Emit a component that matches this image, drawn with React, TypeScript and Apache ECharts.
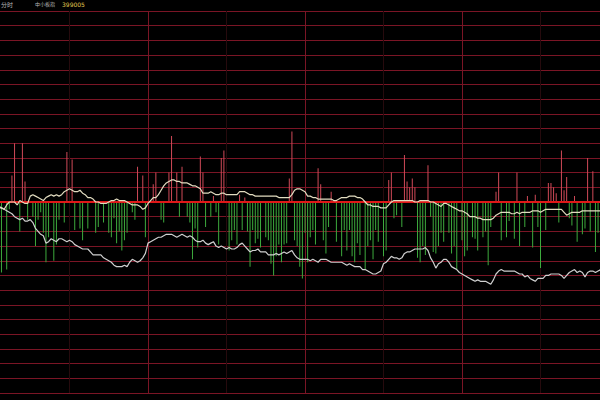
import React, { useEffect, useRef } from "react";
import * as echarts from "echarts";

// Header texts
const headerTexts = ["分时", "中小板指", "399005"];

// Minutes since open (0 = 09:30), one value per minute, % change
const priceLine = [
  -0.03, -0.03, -0.02, -0.03, -0.04, -0.05, -0.02, 0, 0, 0,
  -0.02, 0.01, 0, -0.01, -0.01, 0.04, 0.05, 0.04, 0.03, 0.02,
  0.01, 0.03, 0.04, 0.05, 0.04, 0.05, 0.04, 0.05, 0.07, 0.08,
  0.09, 0.08, 0.07, 0.07, 0.08, 0.06, 0.05, 0.03, 0.03, 0.02,
  0, 0, -0.01, -0.01, -0.01, 0, 0.01, 0.01, 0.02, 0.01,
  0.01, 0.01, 0, -0.01, -0.02, -0.02, -0.02, -0.03, -0.05, -0.04,
  -0.01, 0.01, 0.03, 0.03, 0.05, 0.08, 0.11, 0.13, 0.14, 0.15,
  0.15, 0.14, 0.14, 0.13, 0.13, 0.13, 0.12, 0.11, 0.11, 0.1,
  0.09, 0.06, 0.06, 0.06, 0.07, 0.06, 0.05, 0.05, 0.06, 0.06,
  0.05, 0.05, 0.05, 0.05, 0.05, 0.07, 0.07, 0.07, 0.06, 0.05,
  0.05, 0.04, 0.04, 0.04, 0.04, 0.04, 0.04, 0.04, 0.04, 0.04,
  0.03, 0.03, 0.03, 0.03, 0.03, 0.05, 0.08, 0.09, 0.09, 0.08,
  0.07, 0.04, 0.04, 0.03, 0.03, 0.02, 0.02, 0.02, 0.02, 0.02,
  0.02, 0.01, 0.01, 0.02, 0.03, 0.03, 0.03, 0.04, 0.04, 0.04,
  0.03, 0.03, 0.02, 0, -0.02, -0.02, -0.03, -0.03, -0.03, -0.04,
  -0.04, -0.04, -0.02, 0, 0.01, 0.01, 0.01, 0.01, 0.01, 0.01,
  0.01, 0.01, 0, 0, 0.01, 0.01, 0.01, 0.01, 0, 0,
  -0.01, -0.02, -0.03, -0.01, -0.01, -0.02, -0.03, -0.04, -0.05, -0.06,
  -0.06, -0.07, -0.08, -0.1, -0.1, -0.1, -0.11, -0.11, -0.12, -0.12,
  -0.12, -0.12, -0.11, -0.09, -0.08, -0.07, -0.07, -0.07, -0.07, -0.08,
  -0.08, -0.07, -0.08, -0.07, -0.07, -0.07, -0.07, -0.06, -0.06, -0.06,
  -0.07, -0.06, -0.05, -0.05, -0.05, -0.05, -0.05, -0.05, -0.05, -0.07,
  -0.09, -0.08, -0.07, -0.07, -0.07, -0.07, -0.06, -0.06, -0.06, -0.06,
  -0.06, -0.06, -0.06, -0.06, -0.06,
];

const secondLine = [
  -0.03, -0.03, -0.03, -0.04, -0.04, -0.05, -0.06, -0.07, -0.08, -0.1,
  -0.11, -0.12, -0.11, -0.13, -0.13, -0.12, -0.14, -0.18, -0.2, -0.22,
  -0.23, -0.28, -0.27, -0.25, -0.26, -0.27, -0.25, -0.25, -0.26, -0.27,
  -0.26, -0.27, -0.29, -0.3, -0.31, -0.32, -0.32, -0.32, -0.34, -0.36,
  -0.36, -0.36, -0.36, -0.38, -0.39, -0.4, -0.41, -0.43, -0.44, -0.44,
  -0.44, -0.43, -0.44, -0.41, -0.39, -0.4, -0.41, -0.4, -0.38, -0.35,
  -0.28, -0.27, -0.26, -0.25, -0.24, -0.24, -0.23, -0.22, -0.22, -0.22,
  -0.23, -0.24, -0.23, -0.22, -0.23, -0.24, -0.23, -0.24, -0.26, -0.27,
  -0.27, -0.26, -0.28, -0.29, -0.28, -0.27, -0.3, -0.31, -0.3, -0.31,
  -0.32, -0.31, -0.32, -0.32, -0.31, -0.29, -0.28, -0.3, -0.32, -0.34,
  -0.33, -0.33, -0.32, -0.34, -0.34, -0.34, -0.36, -0.36, -0.36, -0.35,
  -0.36, -0.35, -0.34, -0.35, -0.34, -0.33, -0.36, -0.38, -0.39, -0.39,
  -0.39, -0.39, -0.4, -0.39, -0.4, -0.41, -0.39, -0.39, -0.39, -0.4,
  -0.41, -0.41, -0.41, -0.41, -0.41, -0.42, -0.43, -0.42, -0.43, -0.44,
  -0.44, -0.44, -0.46, -0.46, -0.47, -0.48, -0.49, -0.49, -0.48, -0.47,
  -0.42, -0.41, -0.39, -0.37, -0.38, -0.38, -0.39, -0.38, -0.35, -0.34,
  -0.34, -0.33, -0.32, -0.32, -0.32, -0.32, -0.31, -0.33, -0.38, -0.41,
  -0.45, -0.42, -0.41, -0.39, -0.39, -0.41, -0.44, -0.45, -0.46, -0.48,
  -0.49, -0.5, -0.51, -0.52, -0.53, -0.54, -0.53, -0.54, -0.54, -0.54,
  -0.55, -0.56, -0.53, -0.49, -0.47, -0.46, -0.47, -0.47, -0.47, -0.47,
  -0.47, -0.48, -0.49, -0.49, -0.51, -0.5, -0.52, -0.53, -0.54, -0.52,
  -0.52, -0.52, -0.5, -0.5, -0.49, -0.49, -0.49, -0.49, -0.5, -0.52,
  -0.5, -0.48, -0.47, -0.46, -0.48, -0.47, -0.48, -0.51, -0.48, -0.47,
  -0.47, -0.48, -0.47, -0.46, -0.46,
];

// [minute, value] pairs
const upBars = [
  [8, 0.18], [9, 0.4], [12, 0.4], [13, 0.14], [29, 0.34], [31, 0.29], [56, 0.24], [58, 0.18],
  [62, 0.12], [63, 0.2], [68, 0.2], [69, 0.45], [71, 0.2], [73, 0.24], [80, 0.31], [81, 0.2],
  [85, 0.04], [88, 0.3], [89, 0.35], [95, 0.05], [97, 0.03], [114, 0.16], [115, 0.48], [125, 0.23],
  [126, 0.12], [130, 0.07], [152, 0.15], [153, 0.2], [158, 0.32], [159, 0.14], [160, 0.1], [161, 0.16],
  [162, 0.1], [167, 0.25], [193, 0.07], [194, 0.2], [201, 0.2], [205, 0.04], [208, 0.05], [213, 0.13],
  [214, 0.13], [215, 0.1], [216, 0.06], [218, 0.35], [219, 0.08], [220, 0.17], [223, 0.04], [228, 0.3],
  [230, 0.21],
];

const downBars = [
  [4, -0.48], [6, -0.46], [7, -0.05], [11, -0.2], [14, -0.12], [16, -0.1], [17, -0.3], [18, -0.12],
  [19, -0.07], [20, -0.21], [21, -0.41], [22, -0.24], [24, -0.4], [25, -0.29], [26, -0.12], [28, -0.14],
  [32, -0.19], [34, -0.18], [35, -0.26], [37, -0.18], [40, -0.21], [41, -0.17], [43, -0.14], [45, -0.21],
  [46, -0.24], [47, -0.11], [48, -0.28], [49, -0.2], [50, -0.33], [51, -0.26], [52, -0.21], [54, -0.07],
  [55, -0.12], [59, -0.24], [65, -0.12], [66, -0.14], [72, -0.1], [75, -0.1], [76, -0.14], [77, -0.39],
  [78, -0.18], [79, -0.31], [82, -0.17], [84, -0.1], [86, -0.07], [87, -0.29], [91, -0.33], [92, -0.26],
  [93, -0.19], [94, -0.29], [96, -0.19], [98, -0.2], [99, -0.44], [100, -0.19], [101, -0.28], [102, -0.25],
  [103, -0.31], [105, -0.24], [106, -0.26], [107, -0.42], [108, -0.5], [109, -0.37], [110, -0.29], [111, -0.41],
  [112, -0.29], [113, -0.28], [116, -0.26], [117, -0.3], [118, -0.44], [119, -0.52], [120, -0.21], [121, -0.41],
  [122, -0.24], [123, -0.19], [124, -0.29], [127, -0.26], [128, -0.35], [129, -0.17], [132, -0.27], [134, -0.37],
  [135, -0.19], [136, -0.33], [137, -0.19], [138, -0.37], [139, -0.41], [140, -0.28], [141, -0.36], [143, -0.46],
  [144, -0.3], [145, -0.26], [146, -0.39], [147, -0.19], [148, -0.27], [150, -0.37], [151, -0.33], [154, -0.11],
  [155, -0.09], [157, -0.17], [163, -0.38], [164, -0.41], [165, -0.3], [166, -0.36], [168, -0.1], [169, -0.34],
  [170, -0.35], [171, -0.3], [172, -0.21], [173, -0.27], [175, -0.21], [176, -0.35], [177, -0.3], [178, -0.46],
  [180, -0.26], [181, -0.37], [182, -0.33], [184, -0.24], [185, -0.25], [186, -0.33], [188, -0.24], [189, -0.2],
  [190, -0.43], [191, -0.17], [195, -0.26], [197, -0.24], [198, -0.13], [200, -0.25], [202, -0.3], [204, -0.17],
  [207, -0.31], [209, -0.17], [210, -0.45], [212, -0.19], [217, -0.14], [221, -0.11], [222, -0.16], [224, -0.27],
  [226, -0.22], [227, -0.18], [229, -0.2], [231, -0.34], [232, -0.21],
];

const GRID_RED = "#7a1525";

export default function App() {
  const ref = useRef<HTMLDivElement>(null);
  useEffect(() => {
    if (!ref.current) return;
    const chart = echarts.init(ref.current, undefined, { renderer: "svg" });
    const barData = [
      ...upBars.map((d) => ({ value: d, itemStyle: { color: "#d04a58" } })),
      ...downBars.map((d) => ({ value: d, itemStyle: { color: "#3daa3d" } })),
    ].sort((a, b) => a.value[0] - b.value[0]);
    chart.setOption({
      animation: false,
      backgroundColor: "#000000",
      grid: { left: 0, right: 0, top: 11, height: 382 },
      xAxis: {
        type: "value",
        min: 0,
        max: 240,
        interval: 60,
        axisLine: { show: false },
        axisTick: { show: false },
        axisLabel: { show: false },
        splitLine: { show: true, lineStyle: { color: GRID_RED, width: 1 } },
        minorTick: { show: false, splitNumber: 2 },
        minorSplitLine: { show: true, lineStyle: { color: "#260a0d", width: 1 } },
      },
      yAxis: {
        type: "value",
        min: -1.3,
        max: 1.3,
        interval: 0.1,
        axisLine: { show: false },
        axisTick: { show: false },
        axisLabel: { show: false },
        splitLine: { show: true, lineStyle: { color: GRID_RED, width: 1 } },
      },
      graphic: [
        { type: "text", left: 10, top: 1, style: { text: headerTexts[0], fill: "#b8b8b8", font: "6px 'Noto Sans CJK SC'" } },
        { type: "text", left: 44, top: 1, style: { text: headerTexts[1], fill: "#b8b8b8", font: "5px 'Noto Sans CJK SC'" } },
        { type: "text", left: 71, top: 1, style: { text: headerTexts[2], fill: "#e0c850", font: "6px 'DejaVu Sans'" } },
      ],
      series: [
        {
          type: "bar",
          data: barData,
          barWidth: 1,
          z: 1,
          markLine: {
            silent: true,
            symbol: "none",
            label: { show: false },
            lineStyle: { color: "#e01818", width: 2, type: "solid" },
            data: [{ yAxis: 0 }],
            z: 2,
          },
        },
        {
          type: "line",
          data: secondLine.map((v, i) => [i, v]),
          showSymbol: false,
          symbol: "none",
          lineStyle: { color: "#cfcfcf", width: 1.2 },
          z: 3,
        },
        {
          type: "line",
          data: priceLine.map((v, i) => [i, v]),
          showSymbol: false,
          symbol: "none",
          lineStyle: { color: "#e2dcc0", width: 1.2 },
          z: 4,
        },
      ],
    });
    return () => chart.dispose();
  }, []);
  return (
    <div style={{ position: "fixed", left: 0, top: 0, width: 600, height: 400, overflow: "hidden", background: "#000" }}>
      <div ref={ref} style={{ position: "absolute", left: -9, top: 0, width: 628, height: 400 }} />
    </div>
  );
}
